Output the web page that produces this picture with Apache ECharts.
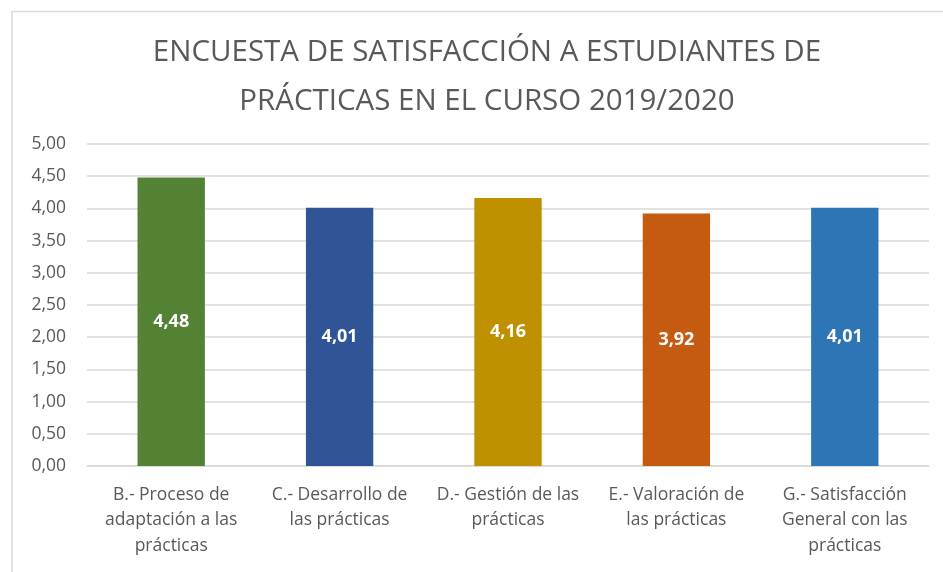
<!DOCTYPE html>
<html>
<head>
<meta charset="utf-8">
<script src="https://cdn.jsdelivr.net/npm/echarts@6/dist/echarts.min.js"></script>
<style>
html,body{margin:0;padding:0;background:#fff;}
#c{width:943px;height:572px;}
</style>
</head>
<body>
<div id="c"></div>
<script>
const titleLines = ['ENCUESTA DE SATISFACCIÓN A ESTUDIANTES DE', 'PRÁCTICAS EN EL CURSO 2019/2020'];
const categories = [
  'B.- Proceso de\nadaptación a las\nprácticas',
  'C.- Desarrollo de\nlas prácticas',
  'D.- Gestión de las\nprácticas',
  'E.- Valoración de\nlas prácticas',
  'G.- Satisfacción\nGeneral con las\nprácticas'
];
const values = [4.48, 4.01, 4.16, 3.92, 4.01];
const barColors = ['#548235', '#2F5597', '#BF9000', '#C55A11', '#2E75B6'];
const yTicks = [0, 0.5, 1, 1.5, 2, 2.5, 3, 3.5, 4, 4.5, 5];

const fmt = v => v.toFixed(2).replace('.', ',');
const FONT = '"Open Sans", sans-serif';

const chart = echarts.init(document.getElementById('c'), null, {renderer: 'canvas'});
chart.setOption({
  animation: false,
  backgroundColor: '#fff',
  title: {
    text: titleLines.join('\n'),
    left: 482,
    top: 23,
    textAlign: 'center',
    textStyle: {
      color: '#595959',
      fontFamily: FONT,
      fontWeight: 'normal',
      fontSize: 29.5,
      lineHeight: 49
    }
  },
  graphic: [{
    type: 'rect',
    shape: {x: 12, y: 11.5, width: 1000, height: 700},
    style: {fill: 'none', stroke: '#d9d9d9', lineWidth: 1.5},
    silent: true
  }],
  grid: {left: 87, right: 14, top: 144, bottom: 106},
  xAxis: {
    type: 'category',
    data: categories,
    axisTick: {show: false},
    axisLine: {show: true, lineStyle: {color: '#d9d9d9', width: 1.5}},
    axisLabel: {
      color: '#595959',
      fontFamily: FONT,
      fontSize: 17.5,
      lineHeight: 25.5,
      margin: 16,
      interval: 0
    }
  },
  yAxis: {
    type: 'value',
    min: yTicks[0],
    max: yTicks[yTicks.length - 1],
    interval: yTicks[1] - yTicks[0],
    axisLine: {show: false},
    axisTick: {show: false},
    splitLine: {lineStyle: {color: '#d9d9d9', width: 1.5}},
    axisLabel: {
      color: '#595959',
      fontFamily: FONT,
      fontSize: 17.5,
      margin: 21,
      formatter: v => fmt(v)
    }
  },
  series: [{
    type: 'bar',
    data: values.map((v, i) => ({value: v, itemStyle: {color: barColors[i]}})),
    barWidth: '40%',
    label: {
      show: true,
      position: 'inside',
      color: '#fff',
      fontFamily: FONT,
      fontWeight: 'bold',
      fontSize: 18,
      formatter: p => fmt(p.value)
    }
  }]
});
</script>
</body>
</html>
